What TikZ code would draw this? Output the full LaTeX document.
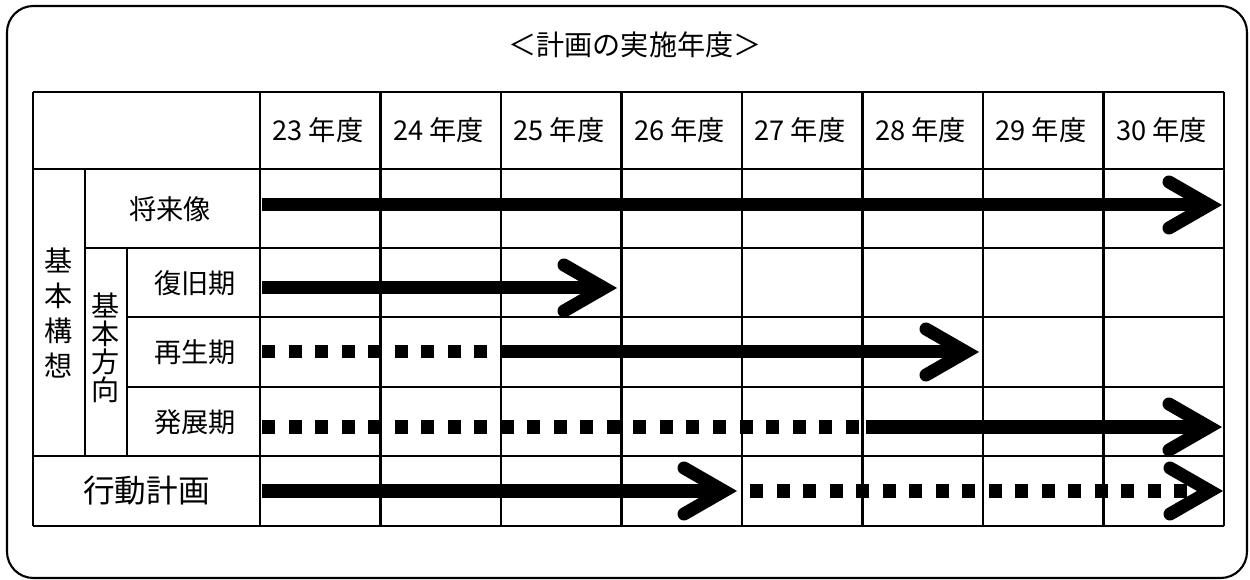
\documentclass[tikz,border=0pt]{standalone}
\usepackage{fontspec}
\setmainfont{Noto Sans CJK JP}
\usepackage{tikz}
\usetikzlibrary{calc}

\tikzset{
  gridline/.style={line width=1.2pt},
  shaft/.style={line width=7.4pt},
  dotline/.style={line width=7.4pt,dash pattern=on 7.4pt off 7.7pt},
  chevron/.pic={\draw[line width=7.4pt,line cap=round,line join=miter] (-40,-23) -- (0,0) -- (-40,23);},
  label/.style={font=\fontsize{15.5}{18}\selectfont}
}

\begin{document}
\begin{tikzpicture}[x=0.02cm,y=-0.02cm]
\useasboundingbox (0,0) rectangle (1250,580);

% Frame
\draw[line width=1.2pt,rounded corners=15pt] (7,6) rectangle (1247,578);
\node[font=\fontsize{16}{18}\selectfont] (title) at (635,45) {＜計画の実施年度＞};

% Table lines
\draw[gridline] (33,92) -- (1224,92);
\draw[gridline] (33,169) -- (1224,169);
\draw[gridline] (85,248) -- (1224,248);
\draw[gridline] (127,317) -- (1224,317);
\draw[gridline] (127,387) -- (1224,387);
\draw[gridline] (33,456) -- (1224,456);
\draw[gridline] (33,526) -- (1224,526);
\draw[gridline] (33,92) -- (33,526);
\draw[gridline] (85,169) -- (85,456);
\draw[gridline] (127,248) -- (127,456);
\draw[gridline] (260,92) -- (260,526);
\draw[gridline] (380.5,92) -- (380.5,526);
\draw[gridline] (501,92) -- (501,526);
\draw[gridline] (621.5,92) -- (621.5,526);
\draw[gridline] (742,92) -- (742,526);
\draw[gridline] (862.5,92) -- (862.5,526);
\draw[gridline] (983,92) -- (983,526);
\draw[gridline] (1103.5,92) -- (1103.5,526);
\draw[gridline] (1224,92) -- (1224,526);

% Years
\node[label] (y23) at (318,130.5) {23 年度};
\node[label] (y24) at (438.5,130.5) {24 年度};
\node[label] (y25) at (559,130.5) {25 年度};
\node[label] (y26) at (679.5,130.5) {26 年度};
\node[label] (y27) at (800,130.5) {27 年度};
\node[label] (y28) at (920.5,130.5) {28 年度};
\node[label] (y29) at (1041,130.5) {29 年度};
\node[label] (y30) at (1161.5,130.5) {30 年度};

% Row labels
\node[label] (shorai) at (170,209) {将来像};
\node[label] (fukkyu) at (195,283) {復旧期};
\node[label] (saisei) at (195,352) {再生期};
\node[label] (hatten) at (195,422) {発展期};
\node[font=\fontsize{18}{20}\selectfont] (kodo) at (146.5,491) {行動計画};
\node[font=\fontsize{16}{19.8}\selectfont,align=center,inner sep=0pt] (koso) at (59,313) {基\\本\\構\\想};
\node[font=\fontsize{16}{16}\selectfont,align=center,inner sep=0pt] (hoko) at (106,348) {基\\本\\方\\向};

% Arrow points
\coordinate (a1) at (262,205);
\coordinate (b1) at (1209,205);
\coordinate (a2) at (262,288);
\coordinate (b2) at (604,288);
\coordinate (a3) at (262,352);
\coordinate (m3) at (503,352);
\coordinate (b3) at (966,352);
\coordinate (a4) at (262,427);
\coordinate (m4) at (866,427);
\coordinate (b4) at (1209,427);
\coordinate (a5) at (262,491);
\coordinate (b5) at (724,491);
\coordinate (m5) at (750,491);
\coordinate (c5) at (1191,491);
\coordinate (d5) at (1210,491);

% Arrows
\draw[shaft] (a1) -- (b1);
\pic at (b1) {chevron};
\draw[shaft] (a2) -- (b2);
\pic at (b2) {chevron};
\draw[dotline] (a3) -- (m3);
\draw[shaft] (m3) -- (b3);
\pic at (b3) {chevron};
\draw[dotline] (a4) -- (m4);
\draw[shaft] (m4) -- (b4);
\pic at (b4) {chevron};
\draw[shaft] (a5) -- (b5);
\pic at (b5) {chevron};
\draw[dotline] (m5) -- (c5);
\pic at (d5) {chevron};
\end{tikzpicture}
\end{document}
